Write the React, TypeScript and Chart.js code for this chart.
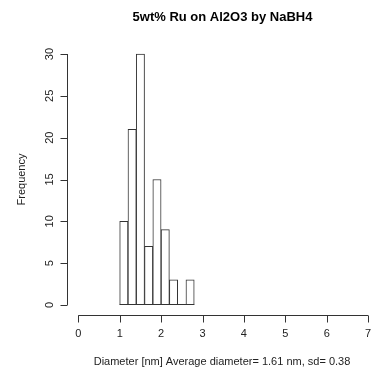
import React, { useEffect, useRef } from "react";
import { Chart, registerables } from "chart.js";

Chart.register(...registerables);

const binCenters = [1.1, 1.3, 1.5, 1.7, 1.9, 2.1, 2.3, 2.5, 2.7];
const frequencies = [10, 21, 30, 7, 15, 9, 3, 0, 3];
const xTicks = [0, 1, 2, 3, 4, 5, 6, 7];
const yTicks = [0, 5, 10, 15, 20, 25, 30];
const titleText = "5wt% Ru on Al2O3 by NaBH4";
const xLabel = "Diameter [nm] Average diameter= 1.61 nm, sd= 0.38";
const yLabel = "Frequency";

const FONT = "'Liberation Sans', Arial, sans-serif";

const rAxesPlugin = {
  id: "rAxes",
  afterDraw(chart: any) {
    const ctx = chart.ctx;
    const xs = chart.scales.x;
    const ys = chart.scales.y;
    ctx.save();
    ctx.strokeStyle = "#333";
    ctx.lineWidth = 1;
    ctx.fillStyle = "#222";
    // x axis
    const axY = Math.round(ys.getPixelForValue(-1.2)) + 0.5;
    const x0 = xs.getPixelForValue(xTicks[0]);
    const x1 = xs.getPixelForValue(xTicks[xTicks.length - 1]);
    ctx.beginPath();
    ctx.moveTo(x0, axY);
    ctx.lineTo(x1, axY);
    xTicks.forEach((t) => {
      const px = Math.round(xs.getPixelForValue(t)) + 0.5;
      ctx.moveTo(px, axY);
      ctx.lineTo(px, axY + 7);
    });
    ctx.stroke();
    ctx.font = `11px ${FONT}`;
    ctx.textAlign = "center";
    ctx.textBaseline = "middle";
    xTicks.forEach((t) => {
      ctx.fillText(String(t), xs.getPixelForValue(t), axY + 18);
    });
    // y axis
    const axX = Math.round(xs.getPixelForValue(-0.28)) + 0.5;
    const y0 = ys.getPixelForValue(yTicks[0]);
    const y1 = ys.getPixelForValue(yTicks[yTicks.length - 1]);
    ctx.beginPath();
    ctx.moveTo(axX, y0);
    ctx.lineTo(axX, y1);
    yTicks.forEach((t) => {
      const py = Math.round(ys.getPixelForValue(t)) + 0.5;
      ctx.moveTo(axX, py);
      ctx.lineTo(axX - 7, py);
    });
    ctx.stroke();
    yTicks.forEach((t) => {
      ctx.save();
      ctx.translate(axX - 18, ys.getPixelForValue(t));
      ctx.rotate(-Math.PI / 2);
      ctx.fillText(String(t), 0, 0);
      ctx.restore();
    });
    // axis titles
    ctx.fillText(xLabel, 222, 362);
    ctx.save();
    ctx.translate(22, (ys.getPixelForValue(0) + ys.getPixelForValue(30)) / 2);
    ctx.rotate(-Math.PI / 2);
    ctx.fillText(yLabel, 0, 0);
    ctx.restore();
    // main title
    ctx.fillStyle = "#000";
    ctx.font = `bold 13px ${FONT}`;
    ctx.fillText(titleText, 222.5, 17);
    // base line of histogram
    ctx.beginPath();
    ctx.strokeStyle = "#333";
    const by = Math.round(ys.getPixelForValue(0)) - 0.5;
    ctx.moveTo(xs.getPixelForValue(binCenters[0] - 0.1), by);
    ctx.lineTo(xs.getPixelForValue(binCenters[binCenters.length - 1] + 0.1), by);
    ctx.stroke();
    ctx.restore();
  },
};

export default function App() {
  const ref = useRef<HTMLCanvasElement>(null);
  useEffect(() => {
    if (!ref.current) return;
    const chart = new Chart(ref.current, {
      type: "bar",
      data: {
        datasets: [
          {
            data: binCenters.map((c, i) => ({ x: c, y: frequencies[i] })),
            backgroundColor: "#ffffff",
            borderColor: "#333",
            borderWidth: 1,
            barPercentage: 1,
            categoryPercentage: 1,
          },
        ],
      },
      options: {
        responsive: false,
        animation: false,
        layout: { padding: { left: 66, right: 0, top: 44, bottom: 61 } },
        plugins: { legend: { display: false }, tooltip: { enabled: false }, title: { display: false } },
        scales: {
          x: { type: "linear", min: -0.297, max: 7.142, offset: false, display: false },
          y: { type: "linear", min: -1.2, max: 31.2, display: false },
        },
      },
      plugins: [rAxesPlugin],
    });
    return () => chart.destroy();
  }, []);
  return (
    <div style={{ position: "absolute", left: 0, top: 0, width: 374, height: 376, background: "#fff" }}>
      <canvas ref={ref} width={374} height={376} style={{ display: "block" }} />
    </div>
  );
}
